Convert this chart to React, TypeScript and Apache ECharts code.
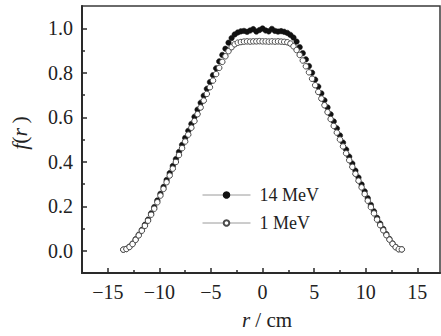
import React, { useEffect, useRef } from "react";
import * as echarts from "echarts";

// Radial positions r (cm), sampled every 0.3 cm
const radius: number[] = [
  -13.5, -13.2, -12.9, -12.6, -12.3, -12.0, -11.7, -11.4, -11.1, -10.8,
  -10.5, -10.2, -9.9, -9.6, -9.3, -9.0, -8.7, -8.4, -8.1, -7.8,
  -7.5, -7.2, -6.9, -6.6, -6.3, -6.0, -5.7, -5.4, -5.1, -4.8,
  -4.5, -4.2, -3.9, -3.6, -3.3, -3.0, -2.7, -2.4, -2.1, -1.8,
  -1.5, -1.2, -0.9, -0.6, -0.3, 0.0, 0.3, 0.6, 0.9, 1.2,
  1.5, 1.8, 2.1, 2.4, 2.7, 3.0, 3.3, 3.6, 3.9, 4.2,
  4.5, 4.8, 5.1, 5.4, 5.7, 6.0, 6.3, 6.6, 6.9, 7.2,
  7.5, 7.8, 8.1, 8.4, 8.7, 9.0, 9.3, 9.6, 9.9, 10.2,
  10.5, 10.8, 11.1, 11.4, 11.7, 12.0, 12.3, 12.6, 12.9, 13.2,
  13.5,
];

// f(r) for 14 MeV
const f14MeV: number[] = [
  0.005, 0.008, 0.018, 0.032, 0.052, 0.072, 0.094, 0.117, 0.140, 0.168,
  0.196, 0.226, 0.256, 0.287, 0.318, 0.349, 0.381, 0.412, 0.444, 0.476,
  0.507, 0.539, 0.570, 0.602, 0.634, 0.665, 0.697, 0.728, 0.758, 0.789,
  0.820, 0.851, 0.880, 0.908, 0.935, 0.956, 0.972, 0.981, 0.986, 0.988,
  0.984, 0.990, 0.996, 0.985, 0.992, 0.999, 0.990, 0.986, 0.997, 0.988,
  0.985, 0.987, 0.984, 0.979, 0.970, 0.958, 0.940, 0.915, 0.888, 0.860,
  0.830, 0.800, 0.769, 0.738, 0.707, 0.676, 0.644, 0.613, 0.581, 0.550,
  0.518, 0.486, 0.455, 0.423, 0.392, 0.360, 0.329, 0.298, 0.267, 0.236,
  0.206, 0.177, 0.148, 0.122, 0.098, 0.075, 0.053, 0.033, 0.017, 0.007,
  0.006,
];

// f(r) for 1 MeV
const f1MeV: number[] = [
  0.005, 0.008, 0.017, 0.030, 0.049, 0.069, 0.090, 0.112, 0.135, 0.162,
  0.189, 0.218, 0.248, 0.278, 0.308, 0.338, 0.369, 0.399, 0.430, 0.461,
  0.491, 0.522, 0.553, 0.583, 0.614, 0.644, 0.675, 0.705, 0.735, 0.765,
  0.794, 0.822, 0.849, 0.874, 0.897, 0.915, 0.928, 0.935, 0.938, 0.940,
  0.941, 0.940, 0.941, 0.941, 0.942, 0.941, 0.941, 0.940, 0.941, 0.940,
  0.941, 0.940, 0.939, 0.937, 0.931, 0.919, 0.902, 0.880, 0.855, 0.829,
  0.802, 0.773, 0.744, 0.714, 0.684, 0.654, 0.623, 0.592, 0.561, 0.531,
  0.500, 0.469, 0.438, 0.407, 0.377, 0.346, 0.315, 0.285, 0.255, 0.225,
  0.196, 0.168, 0.140, 0.115, 0.092, 0.070, 0.050, 0.031, 0.016, 0.007,
  0.006,
];

const seriesNames: string[] = ["14 MeV", "1 MeV"];

// Axis ticks
const xMajorTicks: number[] = [-15, -10, -5, 0, 5, 10, 15];
const xMinorTicks: number[] = [-12.5, -7.5, -2.5, 2.5, 7.5, 12.5];
const yMajorTicks: number[] = [0, 0.2, 0.4, 0.6, 0.8, 1.0];
const yMinorTicks: number[] = [0.1, 0.3, 0.5, 0.7, 0.9];

const SERIF = "Liberation Serif, Times New Roman, DejaVu Serif, serif";
const AXIS_COLOR = "#2a2a2a";

export default function App() {
  const ref = useRef<HTMLDivElement>(null);

  useEffect(() => {
    if (!ref.current) return;
    const chart = echarts.init(ref.current, undefined, { renderer: "svg" });

    const pairs = (ys: number[]) => radius.map((r, i) => [r, ys[i]]);

    const xBase = {
      type: "value" as const,
      min: -17.5,
      max: 17.2,
      gridIndex: 0,
      splitLine: { show: false },
    };
    const yBase = {
      type: "value" as const,
      min: -0.1,
      max: 1.1,
      gridIndex: 0,
      splitLine: { show: false },
    };

    chart.setOption({
      animation: false,
      backgroundColor: "#ffffff",
      grid: {
        left: 82,
        top: 6,
        width: 358,
        height: 267,
        show: true,
        borderColor: "#3a3a3a",
        borderWidth: 1.5,
      },
      xAxis: [
        {
          ...xBase,
          position: "bottom",
          axisLine: { show: true, onZero: false, lineStyle: { color: AXIS_COLOR, width: 2 } },
          axisTick: {
            show: true,
            inside: true,
            length: 5,
            customValues: xMajorTicks,
            lineStyle: { color: AXIS_COLOR, width: 1.5 },
          },
          axisLabel: {
            customValues: xMajorTicks,
            formatter: (v: number) => (v < 0 ? "\u2212" + Math.abs(v) : String(v)),
            fontFamily: SERIF,
            fontSize: 20,
            color: "#222",
            margin: 9,
          },
        },
        {
          ...xBase,
          position: "bottom",
          axisLine: { show: false, onZero: false },
          axisTick: {
            show: true,
            inside: true,
            length: 3,
            customValues: xMinorTicks,
            lineStyle: { color: AXIS_COLOR, width: 1.5 },
          },
          axisLabel: { show: false },
        },
      ],
      yAxis: [
        {
          ...yBase,
          position: "left",
          axisLine: { show: true, onZero: false, lineStyle: { color: AXIS_COLOR, width: 2 } },
          axisTick: {
            show: true,
            inside: true,
            length: 5,
            customValues: yMajorTicks,
            lineStyle: { color: AXIS_COLOR, width: 1.5 },
          },
          axisLabel: {
            customValues: yMajorTicks,
            formatter: (v: number) => v.toFixed(1),
            fontFamily: SERIF,
            fontSize: 20,
            color: "#222",
            margin: 9,
          },
        },
        {
          ...yBase,
          position: "left",
          offset: 0,
          axisLine: { show: false, onZero: false },
          axisTick: {
            show: true,
            inside: true,
            length: 3,
            customValues: yMinorTicks,
            lineStyle: { color: AXIS_COLOR, width: 1.5 },
          },
          axisLabel: { show: false },
        },
      ],
      legend: {
        orient: "vertical",
        left: 197,
        top: 181,
        itemWidth: 48,
        itemHeight: 7,
        itemGap: 10,
        data: seriesNames,
        lineStyle: { color: "#9a9a9a", width: 1, opacity: 1 },
        textStyle: {
          fontFamily: SERIF,
          fontSize: 18,
          lineHeight: 18,
          color: "#222",
          padding: [0, 0, 0, 4],
        },
      },
      series: [
        {
          name: seriesNames[0],
          type: "line",
          xAxisIndex: 0,
          yAxisIndex: 0,
          data: pairs(f14MeV),
          symbol: "circle",
          symbolSize: 5.5,
          showSymbol: true,
          lineStyle: { width: 0, opacity: 0 },
          itemStyle: { color: "#111111", borderColor: "#111111", borderWidth: 0.5 },
          z: 2,
        },
        {
          name: seriesNames[1],
          type: "line",
          xAxisIndex: 0,
          yAxisIndex: 0,
          data: pairs(f1MeV),
          symbol: "circle",
          symbolSize: 5.5,
          showSymbol: true,
          lineStyle: { width: 0, opacity: 0 },
          itemStyle: { color: "#ffffff", borderColor: "#4a4a4a", borderWidth: 1 },
          z: 3,
        },
      ],
      graphic: [
        {
          type: "text",
          x: 19,
          y: 133,
          rotation: Math.PI / 2,
          style: {
            text: "{i|f}({i|r}\u2009)",
            fontFamily: SERIF,
            fontSize: 22,
            fill: "#222",
            align: "center",
            verticalAlign: "middle",
            rich: {
              i: { fontStyle: "italic", fontFamily: SERIF, fontSize: 22, fill: "#222" },
            },
          },
        },
        {
          type: "text",
          x: 267,
          y: 320,
          style: {
            text: "{i|r} / cm",
            fontFamily: SERIF,
            fontSize: 21,
            fill: "#222",
            align: "center",
            verticalAlign: "middle",
            rich: {
              i: { fontStyle: "italic", fontFamily: SERIF, fontSize: 21, fill: "#222" },
            },
          },
        },
      ],
    });

    return () => chart.dispose();
  }, []);

  return (
    <div
      ref={ref}
      style={{ position: "fixed", left: 0, top: 0, width: 441, height: 336 }}
    />
  );
}
